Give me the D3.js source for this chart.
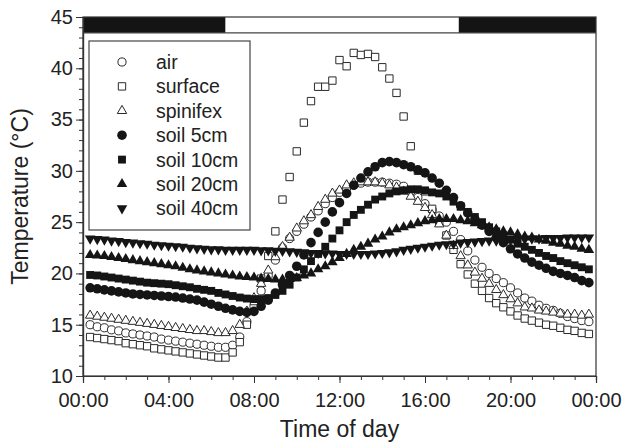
<!DOCTYPE html>
<html>
<head>
<meta charset="utf-8">
<script src="https://cdn.jsdelivr.net/npm/d3@7"></script>
<style>
body { margin: 0; background: #fff; }
svg text { font-family: "Liberation Sans", Arial, sans-serif; fill: #222; }
</style>
</head>
<body>
<svg width="630" height="444"></svg>
<script>
// logger samples every 20 minutes, 00:20 .. 23:40 (hours)
var times = d3.range(1, 72).map(function(i) { return i / 3; });

var airVals = [15.0,14.8,14.7, 14.5,14.4,14.2, 14.1,14.0,13.9, 13.8,13.6,13.5, 13.4,13.3,13.2, 13.1,13.0,12.9,
    12.8,12.8,13.0, 13.8,15.3,16.8, 18.3,19.8,21.3, 22.5,23.4,24.1, 24.8,25.5,26.1, 26.8,27.4,27.9,
    28.3,28.6,28.8, 28.9,28.9,28.9, 28.8,28.7,28.5, 28.0,27.4,26.8, 26.2,25.6,25.0, 24.1,23.3,22.2,
    21.3,20.6,20.0, 19.5,19.1,18.6, 18.1,17.6,17.3, 16.9,16.6,16.4, 16.1,15.8,15.6, 15.4,15.3];
var surfaceVals = [13.8,13.7,13.6, 13.5,13.4,13.2, 13.1,13.0,12.9, 12.7,12.6,12.5, 12.4,12.3,12.2, 12.1,12.0,11.9,
    11.8,11.8,12.3, 13.3,15.0,17.3, 19.5,21.7,24.1, 27.2,29.4,31.9, 34.7,36.8,38.2, 38.2,38.8,40.8,
    40.2,41.5,41.3, 41.4,41.1,40.1, 39.0,37.6,35.3, 32.4,30.0,28.0, 26.3,25.0,23.7, 22.3,20.9,19.9,
    19.0,18.3,17.6, 17.1,16.7,16.3, 15.9,15.6,15.4, 15.2,15.0,14.9, 14.7,14.5,14.4, 14.2,14.1];
var spinifexVals = [15.9,15.8,15.7, 15.6,15.5,15.4, 15.3,15.2,15.1, 15.0,14.9,14.8, 14.7,14.6,14.5, 14.4,14.4,14.3,
    14.2,14.2,14.4, 15.0,16.3,17.6, 19.0,20.3,21.6, 22.6,23.5,24.4, 25.1,25.7,26.5, 27.2,27.8,28.1,
    28.6,28.8,28.9, 28.9,28.9,28.8, 28.6,28.4,28.0, 27.5,27.0,26.4, 25.7,24.8,23.7, 22.7,21.7,20.8,
    20.1,19.5,19.0, 18.4,17.9,17.5, 17.1,16.7,16.6, 16.4,16.3,16.2, 16.1,16.0,16.0, 15.9,16.0];
var soil5Vals = [18.6,18.5,18.4, 18.3,18.2,18.1, 18.0,17.95,17.9, 17.85,17.8,17.75, 17.7,17.6,17.5, 17.4,17.2,17.0,
    16.8,16.6,16.45, 16.3,16.2,16.3, 16.8,17.4,18.1, 18.9,19.8,20.7, 21.8,23.0,24.0, 25.0,26.0,26.9,
    27.8,28.6,29.3, 29.9,30.4,30.8, 30.9,30.8,30.6, 30.4,30.1,29.8, 29.3,28.8,28.1, 27.4,26.6,25.9,
    25.3,24.7,24.1, 23.5,23.0,22.4, 21.9,21.5,21.1, 20.8,20.5,20.2, 20.0,19.8,19.6, 19.3,19.1];
var soil10Vals = [19.85,19.8,19.7, 19.6,19.5,19.4, 19.3,19.2,19.1, 19.05,19.0,18.95, 18.85,18.75,18.65, 18.5,18.4,18.3,
    18.1,17.95,17.8, 17.65,17.55,17.5, 17.5,17.6,17.9, 18.3,18.9,19.6, 20.4,21.2,21.9, 22.6,23.4,24.2,
    25.0,25.7,26.2, 26.7,27.2,27.5, 27.8,28.0,28.1, 28.2,28.2,28.1, 27.9,27.8,27.5, 27.0,26.5,26.0,
    25.5,25.0,24.5, 24.1,23.7,23.3, 22.9,22.6,22.3, 22.0,21.7,21.5, 21.2,21.0,20.8, 20.6,20.4];
var soil20Vals = [21.8,21.75,21.7, 21.6,21.5,21.4, 21.3,21.2,21.1, 21.0,20.9,20.8, 20.7,20.55,20.4, 20.3,20.2,20.1,
    20.0,19.9,19.8, 19.7,19.65,19.6, 19.5,19.45,19.4, 19.4,19.45,19.55, 19.8,20.0,20.4, 20.7,21.1,21.5,
    21.9,22.3,22.6, 22.9,23.3,23.6, 24.0,24.3,24.5, 24.7,24.9,25.1, 25.2,25.3,25.3, 25.3,25.2,25.1,
    24.9,24.7,24.5, 24.3,24.1,24.0, 23.8,23.6,23.5, 23.3,23.2,23.0, 22.9,22.7,22.6, 22.4,22.3];
var soil40Vals = [23.4,23.35,23.3, 23.2,23.15,23.05, 23.0,22.95,22.9, 22.8,22.75,22.7, 22.65,22.6,22.5, 22.45,22.4,22.35,
    22.35,22.3,22.3, 22.3,22.3,22.3, 22.25,22.25,22.2, 22.2,22.15,22.1, 22.05,22.0,22.0, 21.95,21.95,21.9,
    21.9,21.9,21.9, 21.9,21.95,22.0, 22.05,22.15,22.3, 22.4,22.5,22.6, 22.7,22.8,22.85, 22.9,23.0,23.05,
    23.1,23.15,23.2, 23.2,23.25,23.3, 23.35,23.35,23.4, 23.4,23.45,23.45, 23.45,23.5,23.5, 23.5,23.5];

var seriesNames = ['air', 'surface', 'spinifex', 'soil 5cm', 'soil 10cm', 'soil 20cm', 'soil 40cm'];

// light / dark bar along the top
var sunrise = 6.67, sunset = 17.58;
var barBottom = 43.45;

var xTicks = [0, 4, 8, 12, 16, 20, 24];
var yTicks = [10, 15, 20, 25, 30, 35, 40, 45];

var svg = d3.select('svg');
var padding = {t: 17, r: 34, b: 68, l: 83};
var svgWidth = +svg.attr('width');
var svgHeight = +svg.attr('height');
var chartWidth = svgWidth - padding.l - padding.r;
var chartHeight = svgHeight - padding.t - padding.b;

var chartG = svg.append('g')
    .attr('transform', 'translate(' + [padding.l, padding.t] + ')');

var xScale = d3.scaleLinear().domain([0, 24]).range([0, chartWidth]);
var yScale = d3.scaleLinear().domain([10, 45]).range([chartHeight, 0]);

var ink = '#151515';

// day / night bar
var periods = [
    {from: 0, to: sunrise, fill: '#141414'},
    {from: sunrise, to: sunset, fill: '#fff'},
    {from: sunset, to: 24, fill: '#141414'}
];
chartG.selectAll('.period')
    .data(periods)
    .enter().append('rect')
    .attr('class', 'period')
    .attr('x', function(d) { return xScale(d.from); })
    .attr('width', function(d) { return xScale(d.to) - xScale(d.from); })
    .attr('y', yScale(45))
    .attr('height', yScale(barBottom) - yScale(45))
    .attr('fill', function(d) { return d.fill; });
chartG.append('line')
    .attr('x1', 0).attr('x2', chartWidth)
    .attr('y1', yScale(barBottom)).attr('y2', yScale(barBottom))
    .attr('stroke', '#444').attr('stroke-width', 1.2);

// frame
chartG.append('rect')
    .attr('width', chartWidth).attr('height', chartHeight)
    .attr('fill', 'none').attr('stroke', '#333').attr('stroke-width', 1.2);

function fmtHour(h) {
    return d3.format('02')(h % 24) + ':00';
}

// minor ticks every hour / every degree
chartG.append('g')
    .attr('transform', 'translate(0,' + chartHeight + ')')
    .call(d3.axisBottom(xScale).tickValues(d3.range(0, 25, 1)).tickSize(4).tickFormat(''));
chartG.append('g')
    .call(d3.axisLeft(yScale).tickValues(d3.range(10, 46, 1)).tickSize(4).tickFormat(''));

var xAxisG = chartG.append('g')
    .attr('transform', 'translate(0,' + chartHeight + ')')
    .call(d3.axisBottom(xScale).tickValues(xTicks).tickSize(7).tickPadding(10).tickFormat(fmtHour));
var yAxisG = chartG.append('g')
    .call(d3.axisLeft(yScale).tickValues(yTicks).tickSize(7).tickPadding(3));

chartG.selectAll('.domain').attr('stroke', '#333').attr('stroke-width', 1.2);
chartG.selectAll('.tick line').attr('stroke', '#333');
xAxisG.selectAll('.tick text').attr('font-size', 20).attr('fill', '#222');
yAxisG.selectAll('.tick text').attr('font-size', 20).attr('fill', '#222');

// axis titles
svg.append('text')
    .attr('x', padding.l + chartWidth / 2)
    .attr('y', 437)
    .attr('text-anchor', 'middle')
    .attr('font-size', 23)
    .text('Time of day');
svg.append('text')
    .attr('transform', 'translate(28,' + (padding.t + chartHeight / 2) + ') rotate(-90)')
    .attr('text-anchor', 'middle')
    .attr('font-size', 23)
    .text('Temperature (\u00B0C)');

// marker styles
var styles = [
    {type: d3.symbolCircle, size: 52, fill: '#fff', rot: 0},
    {type: d3.symbolSquare, size: 54, fill: '#fff', rot: 0},
    {type: d3.symbolTriangle, size: 38, fill: '#fff', rot: 0},
    {type: d3.symbolCircle, size: 72, fill: ink, rot: 0},
    {type: d3.symbolSquare, size: 62, fill: ink, rot: 0},
    {type: d3.symbolTriangle, size: 48, fill: ink, rot: 0},
    {type: d3.symbolTriangle, size: 48, fill: ink, rot: 180}
];

var seriesVals = [airVals, surfaceVals, spinifexVals, soil5Vals, soil10Vals, soil20Vals, soil40Vals];

seriesVals.forEach(function(vals, si) {
    var st = styles[si];
    var sym = d3.symbol().type(st.type).size(st.size);
    chartG.append('g')
        .attr('class', 'series')
        .selectAll('path')
        .data(vals)
        .enter().append('path')
        .attr('d', sym)
        .attr('transform', function(d, i) {
            return 'translate(' + [xScale(times[i]), yScale(d)] + ') rotate(' + st.rot + ')';
        })
        .attr('fill', st.fill)
        .attr('stroke', st.fill === '#fff' ? '#2a2a2a' : 'none')
        .attr('stroke-width', 1);
});

// legend
var legendG = svg.append('g').attr('transform', 'translate(89,41)');
legendG.append('rect')
    .attr('width', 161).attr('height', 189)
    .attr('fill', '#fff').attr('stroke', '#444').attr('stroke-width', 1.2);
var rows = legendG.selectAll('.row')
    .data(seriesNames)
    .enter().append('g')
    .attr('class', 'row')
    .attr('transform', function(d, i) { return 'translate(0,' + (21 + i * 24.4) + ')'; });
rows.append('path')
    .attr('d', function(d, i) { return d3.symbol().type(styles[i].type).size(styles[i].size)(); })
    .attr('transform', function(d, i) { return 'translate(33,0) rotate(' + styles[i].rot + ')'; })
    .attr('fill', function(d, i) { return styles[i].fill; })
    .attr('stroke', function(d, i) { return styles[i].fill === '#fff' ? '#2a2a2a' : 'none'; });
rows.append('text')
    .attr('x', 67)
    .attr('dy', '0.36em')
    .attr('font-size', 19.5)
    .text(function(d) { return d; });
</script>
</body>
</html>
